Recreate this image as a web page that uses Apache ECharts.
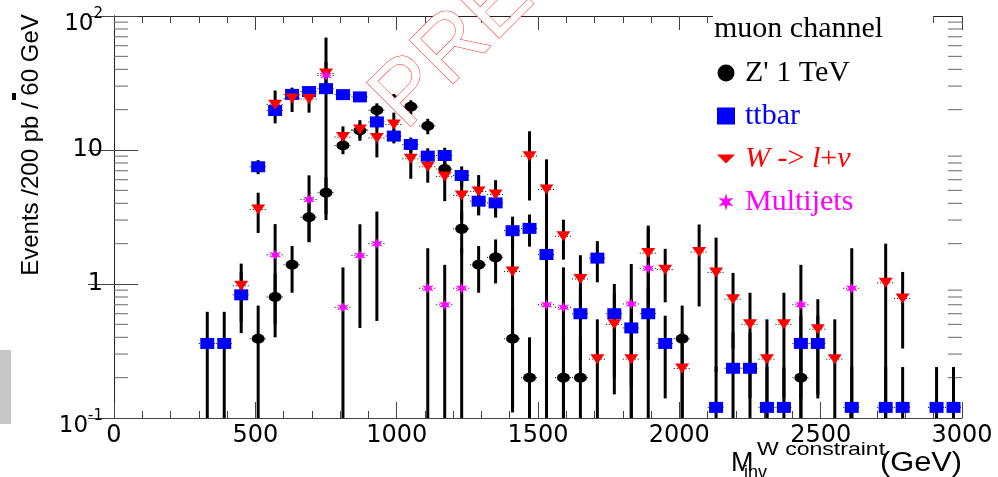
<!DOCTYPE html>
<html><head><meta charset="utf-8">
<script src="https://cdn.jsdelivr.net/npm/echarts@6/dist/echarts.min.js"></script>
<style>html,body{margin:0;padding:0;background:#fff}#c{width:998px;height:477px}</style>
</head><body><div id="c"></div>
<script>
// ---- data (bin centres in GeV, events per bin, symmetric error) ----
const binHalf = 30;
const zName = "Z' 1 TeV";
const zX = [510,570,630,690,750,810,870,930,990,1050,1110,1170,1230,1290,1350,1410,1470,1590,1650,2010,2430];
const zY = [0.39,0.80,1.39,3.15,4.8,10.8,14.0,19.8,23.5,21.0,15.1,7.2,2.58,1.39,1.58,0.39,0.2,0.2,0.2,0.39,0.2];
const zE = [0.3,0.4,0.53,1.1,1.5,1.5,1.8,2.5,2.7,2.5,2.0,1.4,0.9,0.53,0.57,0.28,0.2,0.2,0.2,0.3,0.2];

const tName = "ttbar";
const tX = [330,390,450,510,570,630,690,750,810,870,930,990,1050,1110,1170,1230,1290,1350,1410,1470,1530,1650,1710,1770,1830,1890,1950,2130,2190,2250,2310,2370,2430,2490,2610,2730,2790,2910,2970];
const tY = [0.36,0.36,0.83,7.5,19.7,26,27.3,28.7,25.9,24.9,16.2,12.7,11.0,9.0,9.1,6.45,4.15,4.03,2.5,2.6,1.66,0.6,1.56,0.6,0.47,0.6,0.36,0.12,0.235,0.235,0.12,0.12,0.36,0.36,0.12,0.12,0.12,0.12,0.12];
const tE = [0.26,0.26,0.4,0.9,1.9,2.2,2.2,2.3,2.2,2.1,1.7,1.5,1.4,1.3,1.3,1.1,0.9,0.9,0.68,0.7,0.55,0.33,0.53,0.4,0.3,0.33,0.22,0.12,0.2,0.2,0.12,0.12,0.22,0.22,0.12,0.12,0.12,0.12,0.12];

const wName = "W -> l+ν";
const wX = [450,510,570,630,690,750,810,870,930,990,1050,1110,1170,1230,1290,1350,1410,1470,1530,1590,1650,1710,1770,1830,1890,1950,2010,2070,2130,2190,2250,2310,2370,2490,2550,2730,2790];
const wY = [0.97,3.6,21.8,24.2,24,37.2,12.5,14.2,12.3,15.5,8.6,7.5,6.35,4.57,4.9,4.65,1.24,9.0,5.07,2.27,1.09,0.275,0.50,0.275,1.7,1.28,0.234,1.73,1.22,0.77,0.50,0.275,0.50,0.46,0.275,1.02,0.78];
const wE = [0.45,1.2,6,5,5,8,2.5,2.5,3.5,3.5,2.5,1.8,2.2,1.6,1.6,1.3,1.12,4.8,3.45,0.75,0.55,0.27,0.35,0.27,1.03,0.55,0.2,1.05,1.0,0.44,0.36,0.27,0.36,0.31,0.27,0.98,0.45];

const mName = "Multijets";
const mX = [570,690,750,810,870,930,1110,1170,1230,1530,1590,1830,1890,2430,2610];
const mY = [1.65,4.27,36,0.67,1.63,2.0,0.93,0.70,0.93,0.70,0.67,0.71,1.31,0.70,0.93];
const mE = [1.15,2.2,33,0.66,1.16,1.47,0.92,0.69,0.92,0.69,0.66,0.70,1.3,0.69,0.92];

// axis
const xMin = 0, xMax = 3000, xStep = 500;
const yMin = 0.1, yMax = 100;
const yMinorTicks = [0.2,0.3,0.4,0.5,0.6,0.7,0.8,0.9,2,3,4,5,6,7,8,9,20,30,40,50,60,70,80,90];

// ---- chart ----
const LF = 'Liberation Sans, Arial, sans-serif';
const TF = 'DejaVu Sans, sans-serif';
const SF = 'Liberation Serif, Times New Roman, serif';
const starPath = 'path://M10,0L12,6.54L18.66,5L14,10L18.66,15L12,13.46L10,20L8,13.46L1.34,15L6,10L1.34,5L8,6.54Z';
const triPath = 'path://M0,0L20,0L10,10Z';

function zip(X, Y, E) { return X.map((x, i) => [x, Y[i], E[i]]); }

function errRender(params, api) {
  const x = api.value(0), y = api.value(1), e = api.value(2);
  const cs = params.coordSys;
  const bottom = cs.y + cs.height;
  const c = api.coord([x, y]);
  const hi = api.coord([x, y + e]);
  const lo = (y - e) > yMin ? api.coord([x, y - e])[1] : bottom;
  const l = api.coord([x - binHalf, y]), r = api.coord([x + binHalf, y]);
  return { type: 'group', children: [
    { type: 'line', shape: { x1: c[0], y1: Math.max(hi[1], cs.y), x2: c[0], y2: Math.min(lo, bottom) }, style: { stroke: '#000', lineWidth: 3 } },
    { type: 'line', shape: { x1: l[0], y1: c[1], x2: r[0], y2: c[1] }, style: { stroke: '#000', lineWidth: 1, lineDash: [1, 2] } }
  ]};
}

function errSeries(id, X, Y, E) {
  return { type: 'custom', id: id, name: id, data: zip(X, Y, E), encode: { x: 0, y: 1 },
    renderItem: errRender, clip: true, silent: true };
}
function markSeries(name, X, Y, symbol, size, color, rot) {
  return { type: 'scatter', name: name, data: X.map((x, i) => [x, Y[i]]), symbol: symbol,
    symbolSize: size, symbolRotate: rot || 0, itemStyle: { color: color, opacity: 1 }, silent: true, clip: true };
}

const axisCol = '#444';
const chart = echarts.init(document.getElementById('c'), null, { renderer: 'canvas' });
chart.setOption({
  animation: false,
  backgroundColor: '#fff',
  grid: { left: 114, right: 36, top: 16, bottom: 59 },
  title: { text: 'muon channel', left: 714, top: 14, padding: 0,
    textStyle: { fontFamily: SF, fontSize: 30, fontWeight: 'normal', color: '#000' } },
  legend: {
    orient: 'vertical', left: 717, top: 58, itemWidth: 18, itemHeight: 17, itemGap: 13,
    selectedMode: false, padding: 0,
    data: [
      { name: zName, icon: 'circle', itemStyle: { color: '#000' }, textStyle: { color: '#000' } },
      { name: tName, icon: 'rect', itemStyle: { color: '#0000ff' }, textStyle: { color: '#0000ff' } },
      { name: wName, icon: triPath, itemStyle: { color: '#ff0000' }, textStyle: { color: '#ff0000' } },
      { name: mName, icon: starPath, itemStyle: { color: '#ff00ff' }, textStyle: { color: '#ff00ff' } }
    ],
    formatter: n => n === wName ? '{i|W} -> {i|l}+{i|ν}' : n,
    textStyle: { fontFamily: SF, fontSize: 30, lineHeight: 30, padding: [0, 0, 0, 5],
      rich: { i: { fontFamily: SF, fontSize: 30, fontStyle: 'italic', color: '#ff0000' } } }
  },
  xAxis: [
    { type: 'value', min: xMin, max: xMax, interval: xStep,
      axisLine: { show: true, lineStyle: { color: axisCol, width: 1 } },
      axisTick: { show: true, inside: true, length: 16, lineStyle: { color: axisCol } },
      minorTick: { show: true, splitNumber: 5, length: 7, lineStyle: { color: axisCol } },
      splitLine: { show: false }, minorSplitLine: { show: false },
      axisLabel: { fontFamily: TF, fontSize: 24, color: '#000', margin: 6, formatter: v => String(v) } },
    { type: 'value', position: 'top', min: xMin, max: xMax, interval: xStep,
      axisLine: { show: true, lineStyle: { color: '#222', width: 1 } },
      axisTick: { show: true, inside: true, length: 14, lineStyle: { color: axisCol } },
      minorTick: { show: true, splitNumber: 5, length: 7, lineStyle: { color: axisCol } },
      splitLine: { show: false }, axisLabel: { show: false } }
  ],
  yAxis: [
    { type: 'log', logBase: 10, min: yMin, max: yMax,
      axisLine: { show: true, lineStyle: { color: axisCol, width: 1 } },
      axisTick: { show: true, inside: true, length: 24, lineStyle: { color: axisCol } },
      splitLine: { show: false },
      axisLabel: { margin: 11, color: '#000',
        formatter: v => { const e = Math.round(Math.log10(v));
          if (e === 0) return '{n|1}'; if (e === 1) return '{n|10}';
          return '{b|10}{s|' + e + '}'; },
        rich: {
          n: { fontFamily: TF, fontSize: 24, color: '#000' },
          b: { fontFamily: TF, fontSize: 23, color: '#000', lineHeight: 40, verticalAlign: 'bottom' },
          s: { fontFamily: TF, fontSize: 15, color: '#000', verticalAlign: 'top', padding: [11, 0, 0, 0] }
        } } },
    { type: 'log', logBase: 10, min: yMin, max: yMax, position: 'right',
      axisLine: { show: true, lineStyle: { color: '#222', width: 1 } },
      axisTick: { show: true, inside: true, length: 26, lineStyle: { color: axisCol } },
      splitLine: { show: false }, axisLabel: { show: false } }
  ],
  series: [
    { type: 'custom', name: 'minorTicks', data: yMinorTicks.map(v => [xMin, v]), encode: { x: 0, y: 1 },
      silent: true, clip: false,
      renderItem: (params, api) => {
        const v = api.value(1);
        const L = api.coord([xMin, v]), R = api.coord([xMax, v]);
        return { type: 'group', children: [
          { type: 'line', shape: { x1: L[0], y1: L[1], x2: L[0] + 14, y2: L[1] }, style: { stroke: '#666', lineWidth: 1 } },
          { type: 'line', shape: { x1: R[0] - 14, y1: R[1], x2: R[0], y2: R[1] }, style: { stroke: '#666', lineWidth: 1 } }
        ]};
      } },
    errSeries('zErr', zX, zY, zE),
    markSeries(zName, zX, zY, 'circle', [13, 10], '#000'),
    errSeries('tErr', tX, tY, tE),
    markSeries(tName, tX, tY, 'rect', [14, 11], '#0000ff'),
    errSeries('wErr', wX, wY, wE),
    markSeries(wName, wX, wY, 'triangle', [14, 10], '#ff0000', 180),
    errSeries('mErr', mX, mY, mE),
    markSeries(mName, mX, mY, starPath, [12, 11], '#ff00ff')
  ],
  graphic: { elements: [
    { type: 'rect', z: 3, shape: { x: 713, y: 0, width: 220, height: 222 }, style: { fill: '#fff' }, silent: true },
    { type: 'text', z: 3, x: 388, y: 114, rotation: Math.PI / 4,
      style: { text: 'PRELIMINARY', fontFamily: LF, fontSize: 90, fill: '#fff', stroke: '#ff2020', lineWidth: 1,
        align: 'left', verticalAlign: 'middle' }, silent: true },
    { type: 'text', x: 31, y: 145, rotation: Math.PI / 2,
      style: { text: 'Events /200 pb / 60 GeV', fontFamily: LF, fontSize: 24, fill: '#000', align: 'center', verticalAlign: 'middle' } },
    { type: 'rect', shape: { x: 12, y: 93, width: 4, height: 7 }, style: { fill: '#000' } },
    { type: 'text', x: 731, y: 464, style: { text: 'M', fontFamily: LF, fontSize: 27, fill: '#000', align: 'left', verticalAlign: 'middle' } },
    { type: 'text', x: 757, y: 450, scaleX: 1.28, style: { text: 'W constraint', fontFamily: LF, fontSize: 18, fill: '#000', align: 'left', verticalAlign: 'middle' } },
    { type: 'text', x: 744, y: 473, style: { text: 'inv', fontFamily: LF, fontSize: 18, fill: '#000', align: 'left', verticalAlign: 'middle' } },
    { type: 'text', x: 880, y: 464, scaleX: 1.14, style: { text: '(GeV)', fontFamily: LF, fontSize: 27, fill: '#000', align: 'left', verticalAlign: 'middle' } },
    { type: 'rect', shape: { x: 0, y: 350, width: 11, height: 74 }, style: { fill: '#c8c8c8' } }
  ] }
});
</script></body></html>
